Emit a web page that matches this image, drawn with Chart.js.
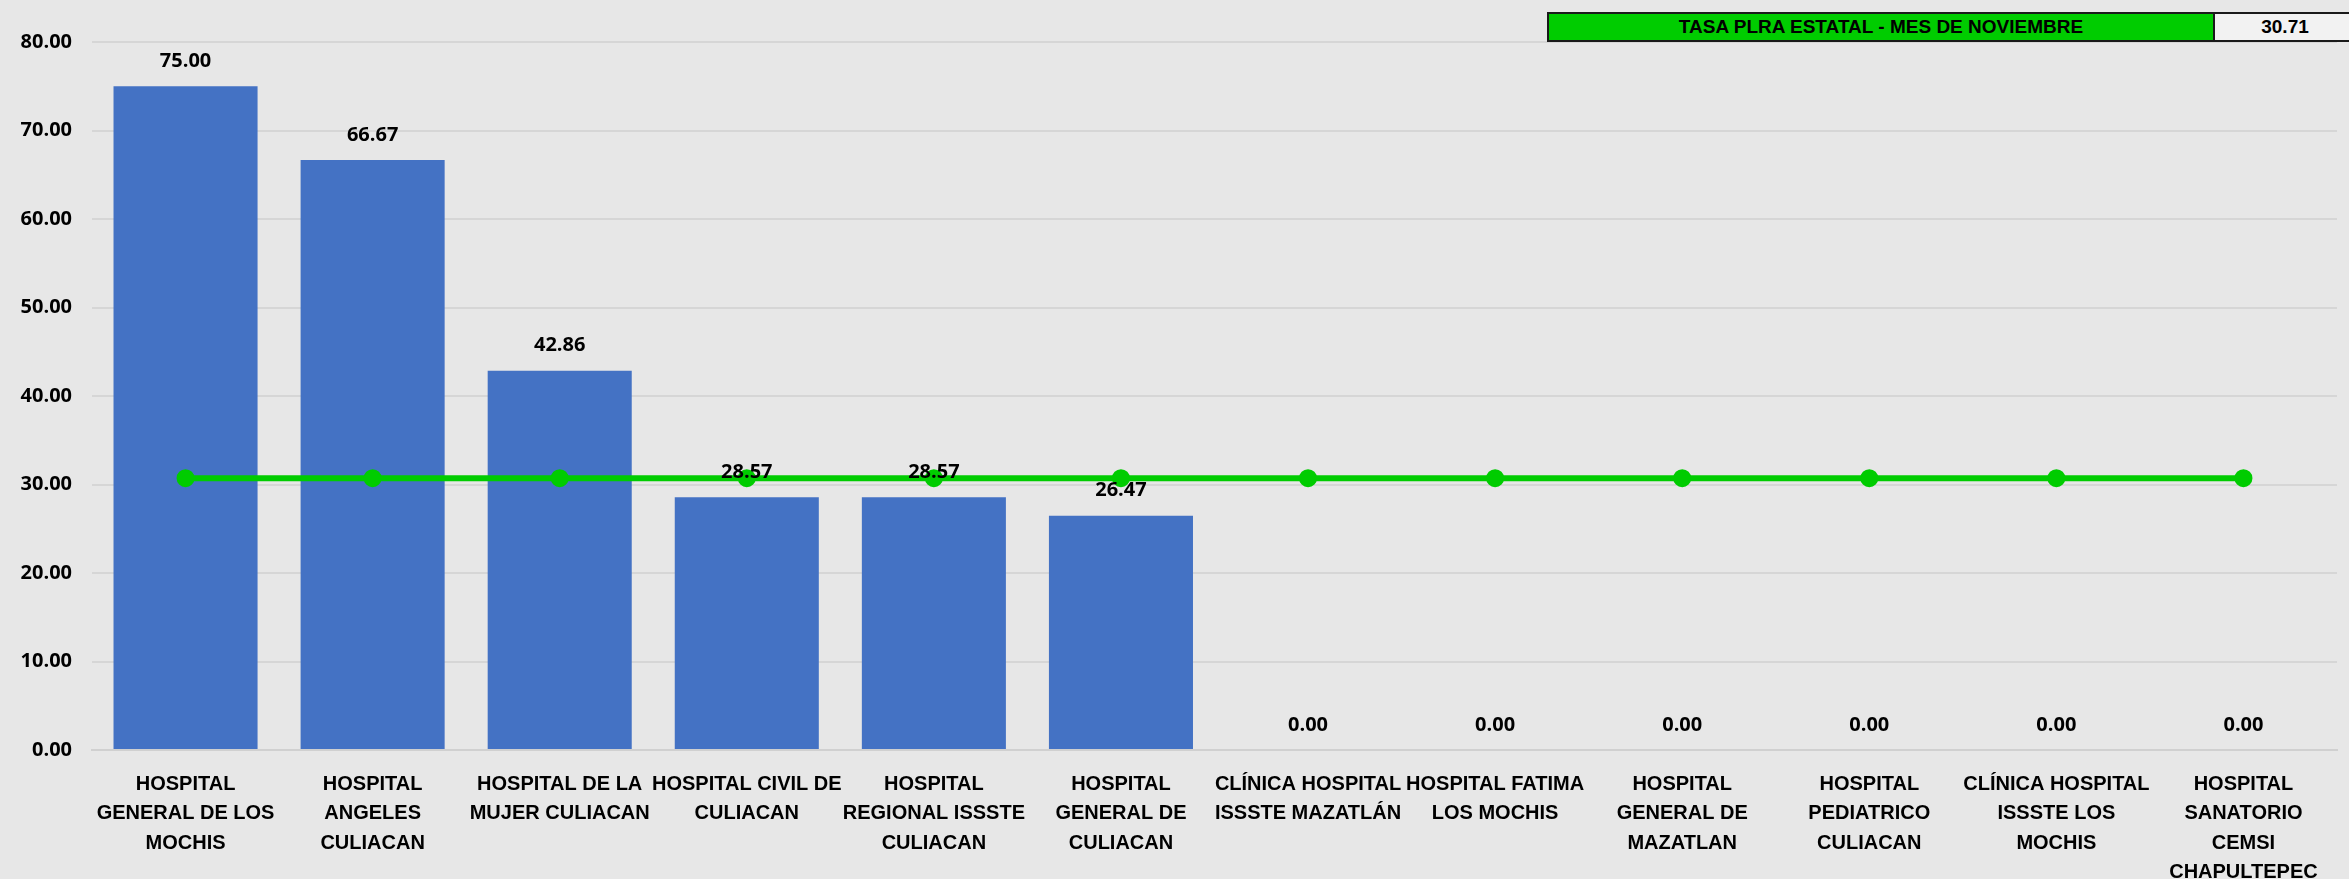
<!DOCTYPE html>
<html lang="es">
  <head>
    <meta charset="utf-8" />
    <title>Tasa PLRA por hospital</title>
    <style>
      * {
        margin: 0;
        padding: 0;
      }
      body {
        background: #e7e7e7;
        width: 2349px;
        height: 879px;
        overflow: hidden;
        position: relative;
      }
      #myChart {
        position: absolute;
        left: 0;
        top: 0;
      }
      .rateBox {
        position: absolute;
        top: 12px;
        left: 1547px;
        height: 30px;
        display: flex;
        border: 2px solid #1a1a1a;
        font-family: "Liberation Sans Narrow", "Liberation Sans", sans-serif;
        font-weight: bold;
        font-size: 19px;
        color: #000;
        box-sizing: border-box;
      }
      .rateBox .title {
        width: 664px;
        background: #00cc00;
        text-align: center;
        line-height: 26px;
        border-right: 2px solid #1a1a1a;
      }
      .rateBox .value {
        width: 140px;
        background: #f2f2f2;
        text-align: center;
        line-height: 26px;
      }
    </style>
  </head>
  <body>
    <canvas id="myChart" width="2349" height="879"></canvas>
    <div class="rateBox">
      <div class="title" id="rateTitle"></div>
      <div class="value" id="rateValue"></div>
    </div>

    <script src="https://cdn.jsdelivr.net/npm/chart.js@4/dist/chart.umd.min.js"></script>
    <script>
      // data block
      const hospitals = [
        ["HOSPITAL", "GENERAL DE LOS", "MOCHIS"],
        ["HOSPITAL", "ANGELES", "CULIACAN"],
        ["HOSPITAL DE LA", "MUJER CULIACAN"],
        ["HOSPITAL CIVIL DE", "CULIACAN"],
        ["HOSPITAL", "REGIONAL ISSSTE", "CULIACAN"],
        ["HOSPITAL", "GENERAL DE", "CULIACAN"],
        ["CLÍNICA HOSPITAL", "ISSSTE MAZATLÁN"],
        ["HOSPITAL FATIMA", "LOS MOCHIS"],
        ["HOSPITAL", "GENERAL DE", "MAZATLAN"],
        ["HOSPITAL", "PEDIATRICO", "CULIACAN"],
        ["CLÍNICA HOSPITAL", "ISSSTE LOS", "MOCHIS"],
        ["HOSPITAL", "SANATORIO", "CEMSI", "CHAPULTEPEC"],
      ];
      const plraRates = [75.0, 66.67, 42.86, 28.57, 28.57, 26.47, 0, 0, 0, 0, 0, 0];
      const stateRateTitle = "TASA PLRA ESTATAL - MES DE NOVIEMBRE";
      const stateRate = 30.71;
      const yTicks = [0, 10, 20, 30, 40, 50, 60, 70, 80];

      document.getElementById("rateTitle").textContent = stateRateTitle;
      document.getElementById("rateValue").textContent = stateRate.toFixed(2);

      const tickFont = { family: "'Open Sans', sans-serif", size: 20, weight: "bold" };
      const labelFont = {
        family: "'Liberation Sans Narrow', 'Liberation Sans', sans-serif",
        size: 20,
        weight: "bold",
        lineHeight: 1.46,
      };

      // value labels above each bar
      const barLabels = {
        id: "barLabels",
        afterDatasetsDraw(chart) {
          const ctx = chart.ctx;
          const meta = chart.getDatasetMeta(0);
          ctx.save();
          ctx.font = "bold 20px 'Open Sans', sans-serif";
          ctx.fillStyle = "#000";
          ctx.textAlign = "center";
          ctx.textBaseline = "middle";
          meta.data.forEach((bar, i) => {
            ctx.fillText(plraRates[i].toFixed(2), bar.x, bar.y - 25);
          });
          ctx.restore();
        },
      };

      const data = {
        labels: hospitals,
        datasets: [
          {
            type: "bar",
            label: "Tasa PLRA",
            data: plraRates,
            backgroundColor: "#4472c4",
            categoryPercentage: 1,
            barPercentage: 0.77,
            order: 1,
          },
          {
            type: "line",
            label: "Tasa estatal",
            data: hospitals.map(() => stateRate),
            borderColor: "#00cc00",
            backgroundColor: "#00cc00",
            borderWidth: 6,
            pointRadius: 6,
            pointHoverRadius: 6,
            order: 0,
          },
        ],
      };

      const config = {
        data: data,
        options: {
          responsive: false,
          animation: false,
          layout: { padding: { top: 42, right: 0, left: 0, bottom: 0 } },
          plugins: {
            legend: { display: false },
            tooltip: { enabled: false },
          },
          scales: {
            x: {
              grid: { display: false },
              border: { color: "#d0d0d0", width: 2 },
              ticks: {
                font: labelFont,
                color: "#000",
                maxRotation: 0,
                autoSkip: false,
                padding: 12,
              },
              afterFit(scale) {
                scale.height = 129;
              },
            },
            y: {
              min: 0,
              max: 80,
              afterBuildTicks(scale) {
                scale.ticks = yTicks.map((v) => ({ value: v }));
              },
              grid: { color: "#d6d6d6", lineWidth: 2, drawTicks: false },
              border: { display: false },
              ticks: {
                font: tickFont,
                color: "#000",
                padding: 20,
                callback: (v) => v.toFixed(2),
              },
              afterFit(scale) {
                scale.width = 92;
              },
            },
          },
        },
        plugins: [barLabels],
      };

      // init render block
      const ctx = document.getElementById("myChart");
      const myChart = new Chart(ctx, config);
    </script>
  </body>
</html>
